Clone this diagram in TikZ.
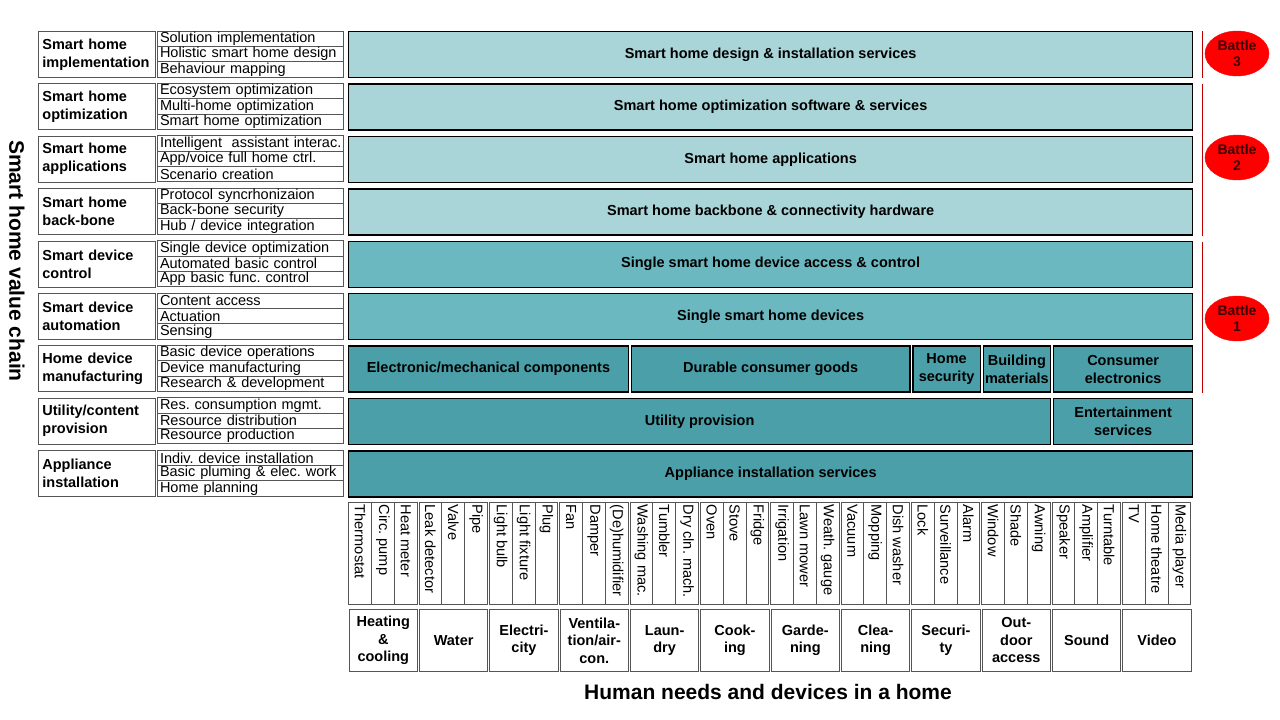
\documentclass[tikz,border=0pt]{standalone}
\usepackage{fontspec}
\setmainfont{Liberation Sans}
\usetikzlibrary{positioning,shapes.geometric}

\definecolor{lightteal}{HTML}{A9D4D8}
\definecolor{midteal}{HTML}{6BB8C0}
\definecolor{darkteal}{HTML}{4A9FA8}
\definecolor{boxgray}{HTML}{555555}
\definecolor{battletext}{HTML}{3C0000}
\definecolor{linered}{HTML}{C00000}

\begin{document}
\frenchspacing
\begin{tikzpicture}[x=1pt,y=-1pt,
  chainbox/.style={draw=boxgray, line width=0.8pt, minimum width=117pt, minimum height=46pt, text width=109pt, inner xsep=4pt, align=left, anchor=north west, font=\bfseries\fontsize{14.5}{18}\selectfont},
  stepitem/.style={draw=boxgray, line width=0.8pt, outer sep=0pt, minimum width=186pt, minimum height=15.33pt, text width=180pt, inner xsep=3pt, inner ysep=0pt, align=left, font=\fontsize{14.5}{15}\selectfont},
  layerbar/.style={draw=black, line width=1.3pt, minimum height=46pt, align=center, anchor=north west, font=\bfseries\fontsize{14.5}{18}\selectfont},
  devcol/.style={draw=boxgray, line width=0.8pt, outer sep=0pt, minimum width=22.8pt, minimum height=102pt, inner sep=0pt},
  devtext/.style={rotate=-90, anchor=west, inner sep=2.5pt, font=\fontsize{14.6}{15}\selectfont},
  needbox/.style={draw=boxgray, line width=0.8pt, minimum width=68.4pt, minimum height=62pt, inner sep=0pt, align=center, anchor=north west, font=\bfseries\fontsize{14.5}{17.5}\selectfont},
  battle/.style={ellipse, fill=red, draw=red, minimum width=64pt, minimum height=45pt, inner sep=0pt, align=center, text=battletext, font=\bfseries\fontsize{14}{16}\selectfont},
  battleline/.style={draw=linered, line width=1pt}]

\useasboundingbox (0,0) rectangle (1280,720);

% value chain steps (left side)
\foreach \i/\lab/\a/\b/\c in {
  1/{Smart home\\implementation}/Solution implementation/Holistic smart home design/Behaviour mapping,
  2/{Smart home\\optimization}/Ecosystem optimization/Multi-home optimization/Smart home optimization,
  3/{Smart home\\applications}/Intelligent~ assistant interac./{App/voice full home ctrl.}/Scenario creation,
  4/{Smart home\\back-bone}/Protocol syncrhonizaion/Back-bone security/{Hub / device integration},
  5/{Smart device\\control}/Single device optimization/Automated basic control/App basic func. control,
  6/{Smart device\\automation}/Content access/Actuation/Sensing,
  7/{Home device\\manufacturing}/Basic device operations/Device manufacturing/Research \& development,
  8/{Utility/content\\provision}/Res. consumption mgmt./Resource distribution/Resource production,
  9/{Appliance\\installation}/Indiv. device installation/Basic pluming \& elec. work/Home planning}
{
  \pgfmathsetmacro\ytop{31+(\i-1)*52.4}
  \node[chainbox] (L\i) at (38,\ytop) {\lab};
  \node[stepitem, anchor=north west] (S\i a) at (157,\ytop) {\mbox{\a}};
  \node[stepitem, below=0pt of S\i a] (S\i b) {\mbox{\b}};
  \node[stepitem, below=0pt of S\i b] (S\i c) {\mbox{\c}};
}

% full width layers
\foreach \i/\txt/\col in {
  1/{Smart home design \& installation services}/lightteal,
  2/{Smart home optimization software \& services}/lightteal,
  3/{Smart home applications}/lightteal,
  4/{Smart home backbone \& connectivity hardware}/lightteal,
  5/{Single smart home device access \& control}/midteal,
  6/{Single smart home devices}/midteal,
  9/{Appliance installation services}/darkteal}
{
  \pgfmathsetmacro\ytop{31+(\i-1)*52.4}
  \node[layerbar, fill=\col, minimum width=844pt] (B\i) at (348,\ytop) {\txt};
}

% split layers
\node[layerbar, fill=darkteal, minimum width=279.6pt] (B7a) at (348,345.4) {Electronic/mechanical components};
\node[layerbar, fill=darkteal, minimum width=278.8pt] (B7b) at (630.6,345.4) {Durable consumer goods};
\node[layerbar, fill=darkteal, minimum width=67.1pt, inner xsep=1pt] (B7c) at (912.4,345.4) {Home\\security};
\node[layerbar, fill=darkteal, minimum width=67.4pt, inner xsep=1pt] (B7d) at (982.5,345.4) {Building\\materials};
\node[layerbar, fill=darkteal, minimum width=139.1pt] (B7e) at (1052.9,345.4) {Consumer\\electronics};

\node[layerbar, fill=darkteal, minimum width=701.9pt] (B8a) at (348,397.8) {Utility provision};
\node[layerbar, fill=darkteal, minimum width=139.1pt] (B8b) at (1052.9,397.8) {Entertainment\\services};

% devices and needs (bottom)
\foreach \g/\need/\da/\db/\dc in {
  1/{Heating\\\&\\cooling}/Thermostat/Circ. pump/Heat meter,
  2/Water/Leak detector/Valve/Pipe,
  3/{Electri-\\city}/Light bulb/Light fixture/Plug,
  4/{Ventila-\\tion/air-\\con.}/Fan/Damper/(De)humidifier,
  5/{Laun-\\dry}/Washing mac./Tumbler/Dry cln. mach.,
  6/{Cook-\\ing}/Oven/Stove/Fridge,
  7/{Garde-\\ning}/Irrigation/Lawn mower/Weath. gauge,
  8/{Clea-\\ning}/Vacuum/Mopping/Dish washer,
  9/{Securi-\\ty}/Lock/Surveillance/Alarm,
  10/{Out-\\door\\access}/Window/Shade/Awning,
  11/Sound/Speaker/Amplifier/Turntable,
  12/Video/TV/Home theatre/Media player}
{
  \pgfmathsetmacro\xg{348.7+(\g-1)*70.333}
  \node[devcol, anchor=north west] (D\g a) at (\xg,502) {};
  \node[devcol, right=0pt of D\g a] (D\g b) {};
  \node[devcol, right=0pt of D\g b] (D\g c) {};
  \node[devtext] at (D\g a.north) {\da};
  \node[devtext] at (D\g b.north) {\db};
  \node[devtext] at (D\g c.north) {\dc};
  \node[needbox] (N\g) at (\xg,609) {\need};
}

% battles
\node[battle] (T3) at (1237,53.5) {Battle\\3};
\node[battle] (T2) at (1237,157.5) {Battle\\2};
\node[battle] (T1) at (1237,318.5) {Battle\\1};

\draw[battleline] ([xshift=9pt]B1.north east) -- ([xshift=9pt]B1.south east);
\draw[battleline] ([xshift=9pt,yshift=-1pt]B2.north east) -- ([xshift=9pt]B4.south east);
\draw[battleline] ([xshift=9pt,yshift=-1pt]B5.north east) -- ([xshift=9pt]B7e.south east);

% titles
\node[rotate=-90, font=\bfseries\fontsize{21}{24}\selectfont] (vchain) at (17,261) {Smart home value chain};
\node[font=\bfseries\fontsize{21}{24}\selectfont] (needs) at (768,692) {Human needs and devices in a home};

\end{tikzpicture}
\end{document}
